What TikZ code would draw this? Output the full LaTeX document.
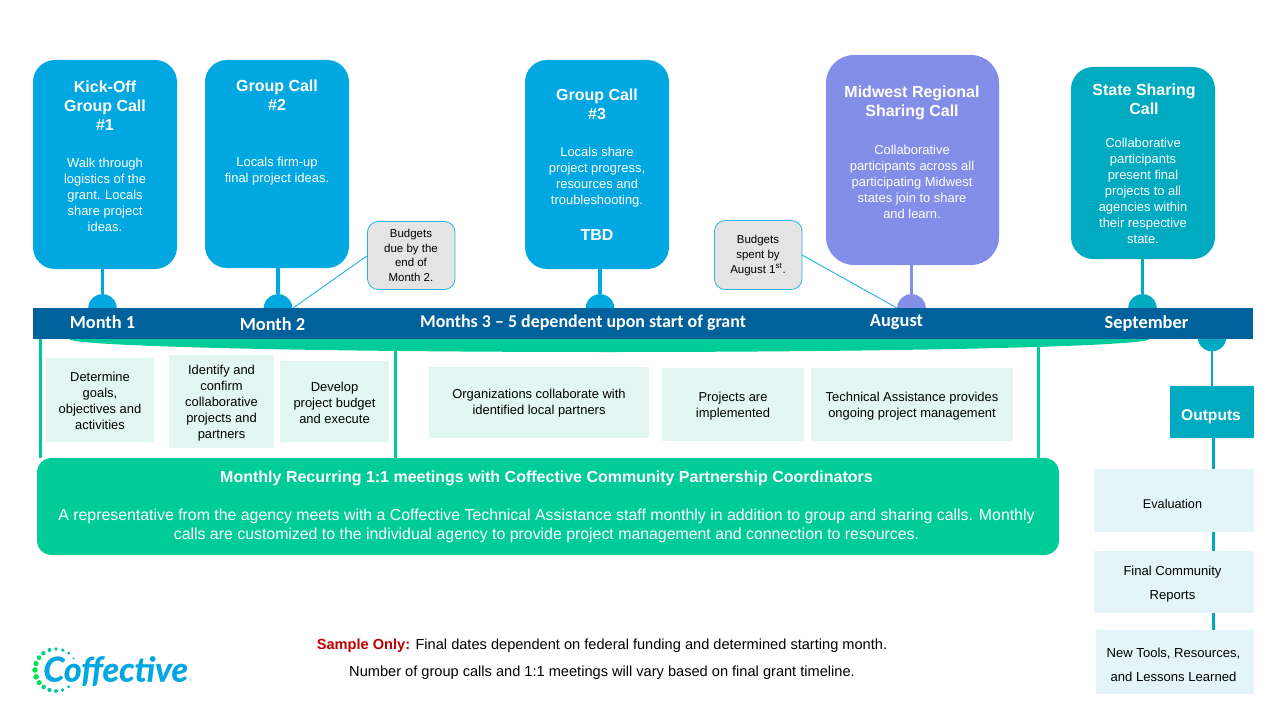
\documentclass[tikz,border=0pt]{standalone}
\usepackage{fontspec}
\usetikzlibrary{shapes.geometric}
\setmainfont{Liberation Sans}
\newfontfamily\carl{Carlito}
\newfontfamily\logof[BoldItalicFeatures={FakeBold=0.6}]{Lato}
\definecolor{cblue}{HTML}{00A7E1}
\definecolor{cviolet}{HTML}{838EE8}
\definecolor{cteal}{HTML}{00ABC2}
\definecolor{cbar}{HTML}{00619B}
\definecolor{cgreen}{HTML}{00CC99}
\definecolor{clgreen}{HTML}{E2F7F1}
\definecolor{clblue}{HTML}{E3F5F9}
\definecolor{cgrey}{HTML}{E4E4E4}
\definecolor{cred}{HTML}{C00000}
\newcommand{\fs}[2]{\fontsize{#1}{#2}\selectfont}
\newcommand{\pbox}[6]{\node[#1,minimum width={(#5-#3)*0.75pt},minimum height={(#6-#4)*0.75pt}] (#2) at ({(#3+#5)/2},{(#4+#6)/2}) {};}
\tikzset{
 x=0.75pt,y=-0.75pt,
 basebox/.style={inner sep=0pt,outer sep=0pt,rectangle},
 bigcard/.style={basebox,fill=#1,rounded corners=16.5pt},
 callout/.style={basebox,fill=cgrey,draw=cblue!85,line width=0.6pt,rounded corners=8pt},
 lgbox/.style={basebox,fill=clgreen},
 lbbox/.style={basebox,fill=clblue},
 dot/.style={circle,fill=#1,inner sep=0pt,outer sep=0pt,minimum size=21.5pt},
 stem/.style={draw=#1,line width=2.7pt},
 greenline/.style={draw=cgreen,line width=2.2pt},
 thin link/.style={draw=cblue!85,line width=0.7pt},
 ttl/.style={align=center,text=white,font=\bfseries\fs{12}{14.4},inner sep=0pt},
 bodyw/.style={align=center,text=white,font=\fs{9.7}{12},inner sep=0pt},
 bodyk/.style={align=center,text=black,font=\fs{9.7}{12},inner sep=0pt},
 smallk/.style={align=center,text=black,font=\fs{8.6}{11},inner sep=0pt},
 month/.style={text=white,font=\carl\bfseries\fs{13.8}{15},inner sep=0pt},
}
\begin{document}
\begin{tikzpicture}
\useasboundingbox (0,0) rectangle (1280,720);
% cards
\pbox{bigcard=cblue}{k1}{33}{60}{177}{269}
\pbox{bigcard=cblue}{k2}{205}{60}{349}{268}
\pbox{bigcard=cblue}{k3}{525}{60}{669}{269}
\pbox{bigcard=cviolet,rounded corners=21pt}{k4}{826}{55}{999}{265}
\pbox{bigcard=cteal}{k5}{1071}{67}{1215}{259}
% dots
\node[dot=cblue] (d1) at (102.5,308.5) {};
\node[dot=cblue] (d2) at (278,308.5) {};
\node[dot=cblue] (d3) at (600,308.5) {};
\node[dot=cviolet] (d4) at (911.5,308.5) {};
\node[dot=cteal] (d5) at (1142.5,308.5) {};
\node[dot=cteal] (d6) at (1212,337) {};
\draw[stem=cblue] (k1.south -| d1) -- (d1);
\draw[stem=cblue] (k2.south -| d2) -- (d2);
\draw[stem=cblue] (k3.south -| d3) -- (d3);
\draw[stem=cviolet] (k4.south -| d4) -- (d4);
\draw[stem=cteal] (k5.south -| d5) -- (d5);
% green lens
\node[ellipse,fill=cgreen,inner sep=0pt,minimum width=810pt,minimum height=19.5pt] (lens) at (609,339) {};
% green verticals and big box
\pbox{bigcard=cgreen,rounded corners=11pt}{mtg}{37}{458}{1059}{555}
\coordinate (g1) at (40.5,337);
\coordinate (g2) at (395.5,345);
\coordinate (g3) at (1038.5,345);
\draw[greenline] (g1) -- (g1 |- mtg.north);
\draw[greenline] (g2) -- (g2 |- mtg.north);
\draw[greenline] (g3) -- (g3 |- mtg.north);
% bar
\pbox{basebox,fill=cbar}{bar}{33}{308}{1253}{339}
% callouts
\pbox{callout}{c1}{367.5}{221.5}{455}{289.5}
\pbox{callout}{c2}{714.5}{220.5}{802}{289.5}
\coordinate (l1) at (293,308);
\coordinate (l2) at (897,308);
\draw[thin link] (c1.west) -- (l1);
\draw[thin link] (c2.east) -- (l2);
\node[smallk] (c1t) at (411,255.5) {Budgets\\due by the\\end of\\Month 2.};
\node[smallk] (c2t) at (758,255.5) {Budgets\\spent by\\August 1\textsuperscript{st}.};
% card text
\node[ttl] (k1a) at (105,106) {Kick-Off\\Group Call\\\#1};
\node[bodyw] (k1b) at (105,194.5) {Walk through\\logistics of the\\grant. Locals\\share project\\ideas.};
\node[ttl] (k2a) at (277,95.5) {Group Call\\\#2};
\node[bodyw] (k2b) at (277,171) {Locals firm-up\\final project ideas.};
\node[ttl] (k3a) at (597,104.5) {Group Call\\\#3};
\node[bodyw] (k3b) at (597,177) {Locals share\\project progress,\\resources and\\troubleshooting.};
\node[text=white,font=\bfseries\fs{12}{14},inner sep=0pt] (k3c) at (597,235) {TBD};
\node[ttl] (k4a) at (912,102.5) {Midwest Regional\\Sharing Call};
\node[bodyw] (k4b) at (912,181.5) {Collaborative\\participants across all\\participating Midwest\\states join to share\\and learn.};
\node[ttl] (k5a) at (1144,99.5) {State Sharing\\Call};
\node[bodyw] (k5b) at (1143,190.5) {Collaborative\\participants\\present final\\projects to all\\agencies within\\their respective\\state.};
% month labels
\node[month] (m1) at (102.5,322) {Month 1};
\node[month] (m2) at (272.5,324) {Month 2};
\node[month,font=\carl\bfseries\fs{13.45}{15}] (m3) at (583,323) {Months 3 – 5 dependent upon start of grant};
\node[month] (m4) at (896.5,322) {August};
\node[month] (m5) at (1146.5,323) {September};
% green boxes
\pbox{lgbox}{a1}{46}{358}{154}{442}
\pbox{lgbox}{a2}{169}{355}{274}{448}
\pbox{lgbox}{a3}{280}{361}{389}{442}
\pbox{lgbox}{a4}{429}{367}{649}{438}
\pbox{lgbox}{a5}{662}{368}{804}{441}
\pbox{lgbox}{a6}{811}{368}{1013}{441}
\node[bodyk] (a1t) at (100,400.5) {Determine\\goals,\\objectives and\\activities};
\node[bodyk] (a2t) at (221.5,403.5) {Identify and\\confirm\\collaborative\\projects and\\partners};
\node[bodyk] (a3t) at (334.5,402.5) {Develop\\project budget\\and execute};
\node[bodyk] (a4t) at (539,403.5) {Organizations collaborate with\\identified local partners};
\node[bodyk] (a5t) at (733,406) {Projects are\\implemented};
\node[bodyk] (a6t) at (912,406) {Technical Assistance provides\\ongoing project management};
% meeting text
\node[text=white,font=\bfseries\fs{12}{14},inner sep=0pt] (mt) at (546.5,478.5) {Monthly Recurring 1:1 meetings with Coffective Community Partnership Coordinators};
\node[text=white,align=center,font=\fs{11.9}{14.25},inner sep=0pt] (mb) at (546.5,526) {A representative from the agency meets with a Coffective Technical Assistance staff monthly in addition to group and sharing calls. Monthly\\calls are customized to the individual agency to provide project management and connection to resources.};
% outputs column
\pbox{basebox,fill=cteal}{o}{1170}{386}{1254}{438}
\node[text=white,font=\bfseries\fs{11.7}{14},inner sep=0pt] (ot) at (1211,416.5) {Outputs};
\pbox{lbbox}{o1}{1094}{469}{1254}{532}
\pbox{lbbox}{o2}{1094}{551}{1254}{613}
\pbox{lbbox}{o3}{1096}{630}{1254}{694}
\node[bodyk,font=\fs{9.5}{12}] (o1t) at (1172.5,503.5) {Evaluation};
\node[bodyk,font=\fs{9.8}{18}] (o2t) at (1172.5,584.5) {Final Community\\Reports};
\node[bodyk,font=\fs{9.8}{18}] (o3t) at (1173.5,664.5) {New Tools, Resources,\\and Lessons Learned};
\draw[stem=cteal,line width=2.2pt] (d6) -- (d6 |- o.north);
\coordinate (os) at (1213.5,438);
\draw[stem=cteal,line width=2.2pt] (os) -- (os |- o1.north);
\draw[stem=cteal,line width=2.2pt] (os |- o1.south) -- (os |- o2.north);
\draw[stem=cteal,line width=2.2pt] (os |- o2.south) -- (os |- o3.north);
% note
\node[text=black,align=center,font=\fs{10.95}{20.25},inner sep=0pt] (note) at (602,659.5) {\textcolor{cred}{\bfseries Sample Only:} Final dates dependent on federal funding and determined starting month.\\Number of group calls and 1:1 meetings will vary based on final grant timeline.};
% logo
\node[text=cblue,font=\logof\bfseries\itshape\fs{25.6}{30},inner sep=0pt,anchor=west] (logo) at (43,671) {Coffective};
\node[text=cblue!50,font=\fs{3.5}{4},inner sep=0pt] (reg) at (190.5,679.5) {®};
\foreach \a/\s/\c in {34/1.1/00B0E0,53/1.6/00B0D0,71/1.8/00BBC0,90/1.9/00C4A8,108/2/00CC90,127/2.2/00D480,144/2.4/00DC68,162/2.6/00E058,180/2.8/00E650,199/2.8/00E650,217/2.6/00E058,234/2.3/00D480,252/2.1/00CC90,270/2/00C4A8,288/1.8/00BBC0,307/1.6/00B0D0}{
  \definecolor{tmpc}{HTML}{\c}
  \fill[tmpc] ({56+21*cos(\a)},{670-21*sin(\a)}) circle[radius=\s];
}
\end{tikzpicture}
\end{document}
